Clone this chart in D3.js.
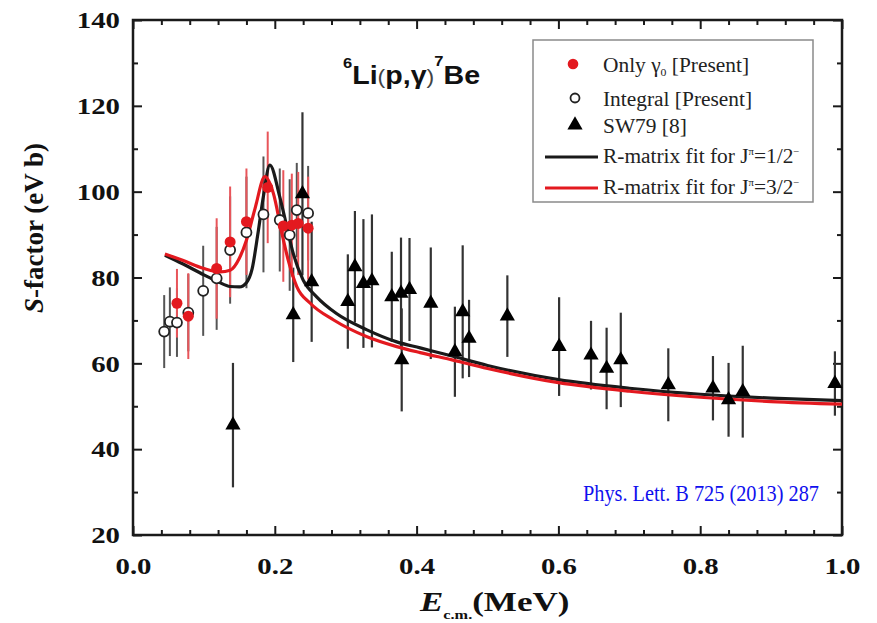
<!DOCTYPE html>
<html><head><meta charset="utf-8">
<script src="https://cdn.jsdelivr.net/npm/d3@7/dist/d3.min.js"></script>
<style>body{margin:0;background:#fff}svg{display:block}</style>
</head><body><svg id="c" width="877" height="623"></svg>
<script>
// ---------- data ----------
const xTicks = [0.0, 0.2, 0.4, 0.6, 0.8, 1.0];
const yTicks = [20, 40, 60, 80, 100, 120, 140];

// SW79 [8]
const swE   = [0.141, 0.226, 0.239, 0.252, 0.303, 0.313, 0.325, 0.337, 0.365, 0.378, 0.379, 0.390, 0.420, 0.454, 0.465, 0.474, 0.528, 0.601, 0.646, 0.668, 0.688, 0.755, 0.818, 0.840, 0.860, 0.990];
const swS   = [45.6, 71.3, 99.5, 79.0, 74.4, 82.5, 78.6, 79.2, 75.5, 76.3, 60.8, 77.2, 74.0, 62.7, 72.0, 65.8, 71.0, 63.9, 61.9, 58.8, 60.8, 55.0, 54.2, 51.5, 53.4, 55.3];
const swErr = [14.5, 11, 19, 14, 11, 13, 15, 15.5, 10.5, 13, 12, 12, 13, 10.5, 15.5, 9, 9.5, 11.5, 8, 9.5, 11, 8.5, 7.5, 8.6, 10.7, 7.5];

// Integral [Present]
const intE   = [0.044, 0.052, 0.062, 0.078, 0.099, 0.118, 0.137, 0.160, 0.184, 0.207, 0.221, 0.231, 0.247];
const intS   = [67.4, 69.7, 69.5, 71.8, 76.9, 79.8, 86.4, 90.5, 94.7, 93.4, 89.9, 95.7, 95.0];
const intErr = [8.5, 8, 8, 9, 10.5, 12, 12.5, 13, 13.5, 12, 13, 11, 11];

// Only gamma0 [Present]
const redE   = [0.062, 0.078, 0.118, 0.137, 0.160, 0.190, 0.212, 0.224, 0.233, 0.247];
const redS   = [74.0, 71.0, 82.1, 88.3, 93.0, 101.0, 92.0, 92.2, 92.6, 91.5];
const redErr = [8, 10, 11.7, 12.9, 12.4, 13, 13, 12, 12, 12];

// R-matrix fits
const fitHalfE = [0.045, 0.07, 0.10, 0.12, 0.137, 0.15, 0.16, 0.168, 0.176, 0.184, 0.193, 0.207, 0.217, 0.226, 0.240, 0.259, 0.287, 0.33, 0.372, 0.405, 0.45, 0.5, 0.6, 0.7, 0.8, 0.9, 1.0];
const fitHalfS = [85.2, 83.2, 80.6, 79.0, 77.9, 77.8, 78.8, 82, 90, 99, 106.2, 98.8, 91.8, 85.6, 79.4, 75.5, 71.6, 67.8, 65.0, 63.6, 61.7, 59.5, 56.2, 54.2, 52.8, 51.9, 51.3];
const fitThreeHalfE = [0.045, 0.07, 0.10, 0.123, 0.137, 0.15, 0.16, 0.172, 0.186, 0.198, 0.21, 0.219, 0.231, 0.25, 0.283, 0.33, 0.372, 0.405, 0.45, 0.5, 0.6, 0.7, 0.8, 0.9, 1.0];
const fitThreeHalfS = [85.5, 84.0, 82.1, 81.3, 81.7, 84.5, 88.7, 96, 103.5, 99.6, 90.3, 84, 77.9, 74, 70.1, 66.2, 63.9, 62.5, 60.8, 58.8, 55.5, 53.5, 52.1, 51.1, 50.5];

const legendLabels = ["Only γ", "Integral [Present]", "SW79 [8]", "R-matrix fit for J", "R-matrix fit for J"];

// ---------- drawing ----------
const svg = d3.select('#c');
const L = 133, R = 842, T = 20, B = 535;
const SX = 1.2;
const RED = '#e3191f', BLK = '#1a1a1a';
const serif = "'Liberation Serif','Times New Roman',serif";
const sans = "'Liberation Sans',Arial,sans-serif";

const x = d3.scaleLinear().domain([0, 1]).range([L, R]);
const y = d3.scaleLinear().domain([20, 140]).range([B, T]);

const xMinor = d3.range(0, 1.0001, 0.04).filter(v => xTicks.every(t => Math.abs(t - v) > 1e-6));
const yMinor = d3.range(30, 140, 20);

function styleAxis(g) {
  g.select('.domain').remove();
  g.selectAll('line').attr('stroke', BLK).attr('stroke-width', 2);
  g.selectAll('text').attr('font-family', serif).attr('font-weight', 'bold')
    .attr('font-size', 24).attr('fill', '#111');
}
// bottom
svg.append('g').attr('transform', `translate(0,${B})`)
  .call(d3.axisBottom(x).tickValues(xTicks).tickSize(-9).tickPadding(22).tickFormat(d3.format('.1f')))
  .call(styleAxis).call(g => g.selectAll('text').attr('transform', `scale(${SX},1)`));
svg.append('g').attr('transform', `translate(0,${B})`)
  .call(d3.axisBottom(x).tickValues(xMinor).tickSize(-5).tickFormat(''))
  .call(styleAxis);
// top
svg.append('g').attr('transform', `translate(0,${T})`)
  .call(d3.axisTop(x).tickValues(xTicks).tickSize(-9).tickFormat(''))
  .call(styleAxis);
svg.append('g').attr('transform', `translate(0,${T})`)
  .call(d3.axisTop(x).tickValues(xMinor).tickSize(-5).tickFormat(''))
  .call(styleAxis);
// left
svg.append('g').attr('transform', `translate(${L},0)`)
  .call(d3.axisLeft(y).tickValues(yTicks).tickSize(-9).tickPadding(13 / SX).tickFormat(d3.format('d')))
  .call(styleAxis).call(g => g.selectAll('text').attr('transform', `scale(${SX},1)`));
svg.append('g').attr('transform', `translate(${L},0)`)
  .call(d3.axisLeft(y).tickValues(yMinor).tickSize(-5).tickFormat(''))
  .call(styleAxis);
// right
svg.append('g').attr('transform', `translate(${R},0)`)
  .call(d3.axisRight(y).tickValues(yTicks).tickSize(-9).tickFormat(''))
  .call(styleAxis);
svg.append('g').attr('transform', `translate(${R},0)`)
  .call(d3.axisRight(y).tickValues(yMinor).tickSize(-5).tickFormat(''))
  .call(styleAxis);

// frame
svg.append('rect').attr('x', L).attr('y', T).attr('width', R - L).attr('height', B - T)
  .attr('fill', 'none').attr('stroke', BLK).attr('stroke-width', 2.5);

// ---------- error bars ----------
const plot = svg.append('g');
function errBars(E, S, Er, color, w) {
  plot.append('g').selectAll('line').data(E).join('line')
    .attr('x1', (d) => x(d)).attr('x2', (d) => x(d))
    .attr('y1', (d, i) => y(S[i] - Er[i])).attr('y2', (d, i) => y(S[i] + Er[i]))
    .attr('stroke', color).attr('stroke-width', w);
}
errBars(swE, swS, swErr, '#333', 2.2);
errBars(intE, intS, intErr, '#555', 2);
errBars(redE, redS, redErr, '#e8555a', 2);

// ---------- fit curves ----------
const line = d3.line().curve(d3.curveMonotoneX).x(d => x(d[0])).y(d => y(d[1]));
plot.append('path').datum(fitHalfE.map((e, i) => [e, fitHalfS[i]]))
  .attr('d', line).attr('fill', 'none').attr('stroke', BLK).attr('stroke-width', 3.2);
plot.append('path').datum(fitThreeHalfE.map((e, i) => [e, fitThreeHalfS[i]]))
  .attr('d', line).attr('fill', 'none').attr('stroke', RED).attr('stroke-width', 3.2);

// ---------- markers ----------
const tri = d3.symbol().type(d3.symbolTriangle).size(100);
plot.append('g').selectAll('path').data(swE).join('path')
  .attr('d', tri).attr('transform', (d, i) => `translate(${x(d)},${y(swS[i])})`)
  .attr('fill', '#000');
plot.append('g').selectAll('circle').data(intE).join('circle')
  .attr('cx', d => x(d)).attr('cy', (d, i) => y(intS[i])).attr('r', 5)
  .attr('fill', '#fff').attr('stroke', '#222').attr('stroke-width', 1.8);
plot.append('g').selectAll('circle').data(redE).join('circle')
  .attr('cx', d => x(d)).attr('cy', (d, i) => y(redS[i])).attr('r', 5.5)
  .attr('fill', RED);

// ---------- legend ----------
const lg = svg.append('g');
lg.append('rect').attr('x', 533).attr('y', 40).attr('width', 280).attr('height', 162)
  .attr('fill', '#fff').attr('stroke', '#8a8a8a').attr('stroke-width', 1.5);
const LX = 603, LFS = 20, LSX = 1.07;
function ltext(i, yb) {
  return lg.append('text').attr('transform', `translate(${LX},${yb}) scale(${LSX},1)`)
    .attr('font-family', serif).attr('font-size', LFS).attr('fill', '#222');
}
lg.append('circle').attr('cx', 573).attr('cy', 64).attr('r', 5.3).attr('fill', RED);
let t0 = ltext(0, 72);
t0.append('tspan').text(legendLabels[0]);
t0.append('tspan').attr('font-size', 11).attr('dy', 4).text('0');
t0.append('tspan').attr('dy', -4).text(' [Present]');
lg.append('circle').attr('cx', 575).attr('cy', 98).attr('r', 4.5)
  .attr('fill', '#fff').attr('stroke', '#222').attr('stroke-width', 1.8);
ltext(1, 106).text(legendLabels[1]);
lg.append('path').attr('d', tri).attr('transform', 'translate(575,125)').attr('fill', '#000');
ltext(2, 133).text(legendLabels[2]);
lg.append('line').attr('x1', 545).attr('x2', 598).attr('y1', 157).attr('y2', 157)
  .attr('stroke', BLK).attr('stroke-width', 3.2);
let t3 = ltext(3, 163);
t3.append('tspan').text(legendLabels[3]);
t3.append('tspan').attr('font-size', 10).attr('dy', -8).text('π');
t3.append('tspan').attr('dy', 8).text('=1/2');
t3.append('tspan').attr('font-size', 10).attr('dy', -8).text('−');
lg.append('line').attr('x1', 545).attr('x2', 598).attr('y1', 188).attr('y2', 188)
  .attr('stroke', RED).attr('stroke-width', 3.2);
let t4 = ltext(4, 194);
t4.append('tspan').text(legendLabels[4]);
t4.append('tspan').attr('font-size', 10).attr('dy', -8).text('π');
t4.append('tspan').attr('dy', 8).text('=3/2');
t4.append('tspan').attr('font-size', 10).attr('dy', -8).text('−');

// ---------- reaction label ----------
const rt = svg.append('text').attr('transform', 'translate(343,84) scale(1.1,1)')
  .attr('font-family', sans).attr('font-weight', 'bold').attr('font-size', 26).attr('fill', '#111');
rt.append('tspan').attr('font-size', 15).attr('dy', -16).text('6');
rt.append('tspan').attr('dy', 16).text('Li');
rt.append('tspan').attr('font-weight', 'normal').attr('font-size', 21).attr('fill', '#444').text('(');
rt.append('tspan').text('p,γ');
rt.append('tspan').attr('font-weight', 'normal').attr('font-size', 21).attr('fill', '#444').text(')');
rt.append('tspan').attr('font-size', 15).attr('dy', -18).text('7');
rt.append('tspan').attr('dy', 18).text('Be');

// ---------- reference ----------
svg.append('text').attr('x', 583).attr('y', 501)
  .attr('font-family', serif).attr('font-size', 23.5).attr('fill', '#1010ee')
  .attr('textLength', 236).attr('lengthAdjust', 'spacingAndGlyphs')
  .text('Phys. Lett. B 725 (2013) 287');

// ---------- axis titles ----------
const yt = svg.append('text').attr('transform', 'translate(43,228) rotate(-90)')
  .attr('text-anchor', 'middle').attr('font-family', serif).attr('font-weight', 'bold')
  .attr('font-size', 27).attr('fill', '#111');
yt.append('tspan').attr('font-style', 'italic').text('S');
yt.append('tspan').text('-factor (eV b)');

const xt = svg.append('text').attr('transform', `translate(420,611) scale(1.25,1)`)
  .attr('font-family', serif).attr('font-weight', 'bold').attr('font-size', 28).attr('fill', '#111');
xt.append('tspan').attr('font-style', 'italic').text('E');
xt.append('tspan').attr('font-size', 13).attr('dy', 8).text('c.m.');
xt.append('tspan').attr('dy', -8).text('(MeV)');
</script>
</body></html>
